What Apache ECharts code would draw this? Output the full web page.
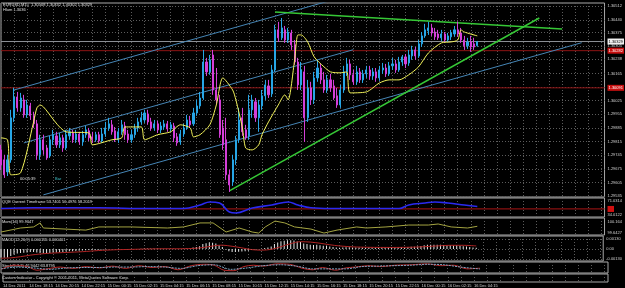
<!DOCTYPE html>
<html>
<head>
<meta charset="utf-8">
<script src="https://cdn.jsdelivr.net/npm/echarts@6.0.0/dist/echarts.min.js"></script>
<style>
  html, body { margin: 0; padding: 0; background: #000; }
  #chart { width: 625px; height: 288px; }
</style>
</head>
<body>
<div id="chart"></div>
<script>
// EURUSD M15, 14 Dec 16:15 -> 16 Dec 05:00, one value per bar
const opens = [
  1.29772, 1.29721, 1.29659, 1.29721, 1.29937, 1.30044, 1.29988, 1.30029, 1.29952, 1.29998,
  1.29947, 1.29906, 1.29747, 1.29824, 1.29782, 1.29741, 1.29824, 1.29844, 1.29798, 1.29834,
  1.29782, 1.29844, 1.29859, 1.29824, 1.29854, 1.29813, 1.29850, 1.29870, 1.29839, 1.29824,
  1.29850, 1.29818, 1.29854, 1.29885, 1.29901, 1.29870, 1.29824, 1.29865, 1.29895, 1.29854,
  1.29824, 1.29850, 1.29885, 1.29916, 1.29926, 1.29957, 1.29916, 1.29885, 1.29906, 1.29875,
  1.29890, 1.29906, 1.29880, 1.29895, 1.29839, 1.29813, 1.29854, 1.29885, 1.29921, 1.29906,
  1.29962, 1.29998, 1.30039, 1.30224, 1.30173, 1.30260, 1.30080, 1.30029, 1.29885, 1.29824,
  1.29644, 1.29607, 1.29721, 1.29824, 1.29937, 1.29875, 1.29844, 1.29978, 1.30019, 1.29937,
  1.29998, 1.30050, 1.30101, 1.30060, 1.30183, 1.30389, 1.30348, 1.30389, 1.30337, 1.30373,
  1.30312, 1.30224, 1.30106, 1.30173, 1.29937, 1.30091, 1.30029, 1.30142, 1.30193, 1.30132,
  1.30080, 1.30132, 1.30101, 1.30050, 1.30003, 1.30080, 1.30173, 1.30214, 1.30158, 1.30122,
  1.30173, 1.30132, 1.30163, 1.30183, 1.30152, 1.30173, 1.30142, 1.30183, 1.30193, 1.30163,
  1.30204, 1.30214, 1.30183, 1.30224, 1.30250, 1.30219, 1.30255, 1.30286, 1.30255, 1.30317,
  1.30358, 1.30384, 1.30399, 1.30378, 1.30368, 1.30348, 1.30368, 1.30337, 1.30353, 1.30368,
  1.30389, 1.30373, 1.30337, 1.30307, 1.30327, 1.30317, 1.30308
];
const closes = [
  1.29695, 1.29644, 1.29721, 1.29937, 1.30044, 1.29988, 1.30039, 1.29952, 1.30003, 1.29947,
  1.29906, 1.29747, 1.29824, 1.29772, 1.29731, 1.29824, 1.29850, 1.29798, 1.29834, 1.29782,
  1.29850, 1.29865, 1.29824, 1.29854, 1.29813, 1.29850, 1.29875, 1.29834, 1.29824, 1.29850,
  1.29818, 1.29854, 1.29885, 1.29906, 1.29865, 1.29824, 1.29865, 1.29901, 1.29850, 1.29824,
  1.29850, 1.29885, 1.29916, 1.29937, 1.29962, 1.29916, 1.29885, 1.29906, 1.29875, 1.29895,
  1.29906, 1.29880, 1.29901, 1.29834, 1.29808, 1.29854, 1.29885, 1.29926, 1.29901, 1.29962,
  1.29998, 1.30039, 1.30224, 1.30173, 1.30235, 1.30080, 1.30029, 1.29850, 1.29798, 1.29644,
  1.29592, 1.29721, 1.29824, 1.29926, 1.29865, 1.29834, 1.29978, 1.30029, 1.29937, 1.30003,
  1.30050, 1.30106, 1.30055, 1.30183, 1.30389, 1.30348, 1.30399, 1.30337, 1.30378, 1.30312,
  1.30224, 1.30106, 1.30183, 1.29937, 1.30091, 1.30029, 1.30142, 1.30193, 1.30132, 1.30080,
  1.30132, 1.30091, 1.30039, 1.30003, 1.30080, 1.30173, 1.30214, 1.30158, 1.30122, 1.30173,
  1.30132, 1.30163, 1.30183, 1.30152, 1.30173, 1.30142, 1.30183, 1.30193, 1.30163, 1.30204,
  1.30214, 1.30183, 1.30224, 1.30250, 1.30214, 1.30260, 1.30286, 1.30255, 1.30317, 1.30358,
  1.30389, 1.30399, 1.30373, 1.30353, 1.30348, 1.30368, 1.30337, 1.30358, 1.30373, 1.30389,
  1.30368, 1.30337, 1.30307, 1.30327, 1.30301, 1.30301, 1.30329
];
const lows = [
  1.29669, 1.29628, 1.29638, 1.29706, 1.29916, 1.29968, 1.29968, 1.29937, 1.29937, 1.29926,
  1.29885, 1.29721, 1.29721, 1.29747, 1.29721, 1.29731, 1.29798, 1.29782, 1.29782, 1.29762,
  1.29772, 1.29824, 1.29808, 1.29808, 1.29798, 1.29793, 1.29834, 1.29818, 1.29808, 1.29813,
  1.29808, 1.29808, 1.29839, 1.29870, 1.29850, 1.29813, 1.29808, 1.29850, 1.29824, 1.29808,
  1.29808, 1.29834, 1.29865, 1.29901, 1.29911, 1.29901, 1.29870, 1.29870, 1.29859, 1.29859,
  1.29875, 1.29865, 1.29865, 1.29813, 1.29793, 1.29798, 1.29839, 1.29875, 1.29885, 1.29895,
  1.29947, 1.29983, 1.30029, 1.30152, 1.30158, 1.30055, 1.30008, 1.29834, 1.29772, 1.29618,
  1.29556, 1.29587, 1.29695, 1.29808, 1.29844, 1.29824, 1.29824, 1.29937, 1.29916, 1.29865,
  1.29978, 1.30029, 1.30039, 1.30044, 1.30173, 1.30327, 1.30337, 1.30322, 1.30322, 1.30286,
  1.30209, 1.30080, 1.30080, 1.29813, 1.29916, 1.30003, 1.30008, 1.30122, 1.30111, 1.30065,
  1.30065, 1.30070, 1.30029, 1.29988, 1.29988, 1.30065, 1.30152, 1.30132, 1.30106, 1.30106,
  1.30116, 1.30116, 1.30142, 1.30132, 1.30132, 1.30122, 1.30127, 1.30163, 1.30147, 1.30152,
  1.30183, 1.30168, 1.30173, 1.30204, 1.30193, 1.30204, 1.30235, 1.30235, 1.30245, 1.30301,
  1.30348, 1.30363, 1.30358, 1.30337, 1.30337, 1.30332, 1.30327, 1.30327, 1.30337, 1.30353,
  1.30353, 1.30322, 1.30286, 1.30291, 1.30276, 1.30286, 1.30302
];
const highs = [
  1.29798, 1.29747, 1.29747, 1.29978, 1.30091, 1.30070, 1.30065, 1.30055, 1.30029, 1.30014,
  1.29968, 1.29926, 1.29850, 1.29850, 1.29798, 1.29844, 1.29875, 1.29865, 1.29859, 1.29850,
  1.29875, 1.29885, 1.29875, 1.29875, 1.29865, 1.29870, 1.29895, 1.29885, 1.29865, 1.29865,
  1.29865, 1.29885, 1.29916, 1.29937, 1.29926, 1.29890, 1.29885, 1.29926, 1.29916, 1.29875,
  1.29875, 1.29906, 1.29937, 1.29968, 1.29978, 1.29978, 1.29937, 1.29926, 1.29921, 1.29916,
  1.29926, 1.29921, 1.29916, 1.29911, 1.29859, 1.29875, 1.29906, 1.29952, 1.29947, 1.29988,
  1.30029, 1.30070, 1.30286, 1.30245, 1.30260, 1.30286, 1.30193, 1.30055, 1.29926, 1.29937,
  1.29669, 1.29747, 1.29844, 1.29988, 1.29988, 1.29901, 1.30055, 1.30055, 1.30039, 1.30029,
  1.30080, 1.30132, 1.30132, 1.30209, 1.30415, 1.30430, 1.30450, 1.30409, 1.30399, 1.30389,
  1.30337, 1.30245, 1.30224, 1.30204, 1.30132, 1.30122, 1.30173, 1.30235, 1.30214, 1.30173,
  1.30158, 1.30163, 1.30132, 1.30091, 1.30106, 1.30204, 1.30245, 1.30235, 1.30183, 1.30204,
  1.30193, 1.30183, 1.30204, 1.30204, 1.30193, 1.30193, 1.30204, 1.30219, 1.30214, 1.30224,
  1.30245, 1.30235, 1.30250, 1.30260, 1.30265, 1.30286, 1.30307, 1.30301, 1.30337, 1.30378,
  1.30420, 1.30430, 1.30420, 1.30399, 1.30389, 1.30389, 1.30378, 1.30373, 1.30389, 1.30409,
  1.30430, 1.30399, 1.30358, 1.30348, 1.30358, 1.30348, 1.30332
];

// yellow moving average, [bar, price]
const maLine = [
  [0, 1.29834], [2, 1.29824], [3, 1.29644], [6, 1.29654], [10, 1.29916], [11, 1.29988], [12, 1.30003],
  [13, 1.29993], [20, 1.29865], [27, 1.29859], [28, 1.29798], [34, 1.29824], [37, 1.29834], [38, 1.29890],
  [43, 1.29890], [44, 1.29824], [48, 1.29850], [52, 1.29865], [55, 1.29901], [58, 1.29885], [59, 1.29839],
  [61, 1.29850], [64, 1.29901], [66, 1.30003], [68, 1.30142], [71, 1.30080], [72, 1.30029], [74, 1.29885],
  [75, 1.29782], [77, 1.29772], [79, 1.29798], [80, 1.29850], [82, 1.29916], [85, 1.30003], [87, 1.30055],
  [88, 1.30029], [90, 1.30235], [91, 1.30363], [92, 1.30363], [94, 1.30327], [96, 1.30250], [99, 1.30199],
  [101, 1.30173], [104, 1.30168], [106, 1.30173], [107, 1.30065], [112, 1.30070], [116, 1.30116],
  [119, 1.30132], [122, 1.30132], [125, 1.30158], [128, 1.30199], [131, 1.30270], [135, 1.30322],
  [138, 1.30327], [140, 1.30337], [141, 1.30389], [142, 1.30378], [146, 1.30358]
];

// drawn objects, [bar, price] end points
const channelTop = [[4, 1.30080], [100, 1.30535]];
const channelMid = [[7, 1.29808], [108, 1.30287]];
const channelLow = [[13, 1.29541], [178, 1.30323]];
const greenUpper = [[84, 1.30481], [172, 1.30394]];
const greenLower = [[70, 1.29561], [165, 1.30450]];
const redLevels = [1.30282, 1.30091];
const bidPrice = 1.30329;

const priceTicks = [1.29535, 1.29605, 1.29675, 1.29745, 1.29815, 1.29885, 1.29955, 1.30025,
  1.30095, 1.30165, 1.30238, 1.30305, 1.30375, 1.30440, 1.30512];
const timeLabels = ['14 Dec 2011', '14 Dec 18:15', '14 Dec 20:15', '14 Dec 22:15', '15 Dec 00:15',
  '15 Dec 02:15', '15 Dec 04:15', '15 Dec 06:15', '15 Dec 08:15', '15 Dec 10:15', '15 Dec 12:15',
  '15 Dec 14:15', '15 Dec 16:15', '15 Dec 18:15', '15 Dec 20:15', '15 Dec 22:15', '16 Dec 00:15',
  '16 Dec 02:15', '16 Dec 04:15'];

// QQE
const qqeLine = [
  [0, 51], [10, 53], [30, 53], [45, 51], [56, 51], [61, 60.5], [64, 68.4], [67, 65.7], [70, 41.9],
  [72, 39.3], [77, 52.5], [83, 60.5], [88, 68.4], [91, 60.5], [95, 53], [101, 51], [122, 51],
  [125, 60.5], [130, 65.7], [133, 68.4], [137, 65.7], [142, 60.5], [146, 56.5]
];
const qqeLevel = 50;
const qqeTicks = [34.0122, 71.0314];

// Momentum(14)
const momLine = [
  [0, 99.69], [6, 99.88], [10, 99.93], [12, 100.12], [13, 99.88], [26, 99.78], [30, 99.93], [40, 99.93],
  [51, 99.88], [56, 99.93], [61, 100.12], [65, 100.12], [69, 99.69], [73, 99.88], [77, 99.69], [79, 99.64],
  [81, 99.93], [84, 100.21], [87, 100.12], [90, 99.93], [95, 99.83], [99, 99.64], [103, 99.78], [109, 99.93],
  [112, 99.88], [118, 99.93], [125, 100.02], [131, 100.02], [134, 100.07], [138, 99.93], [143, 99.88], [146, 99.96]
];
const momTicks = [99.6427, 100.164];

// MACD(12,26,9)
const macdHist = [
  -0.00110, -0.00115, -0.00110, -0.00090, -0.00070, -0.00060, -0.00052, -0.00048, -0.00044, -0.00040,
  -0.00038, -0.00045, -0.00052, -0.00054, -0.00056, -0.00052, -0.00048, -0.00045, -0.00042, -0.00038,
  -0.00034, -0.00030, -0.00028, -0.00025, -0.00022, -0.00019, -0.00016, -0.00014, -0.00012, -0.00010,
  -0.00009, -0.00007, -0.00005, -0.00003, -0.00002, -0.00003, -0.00003, -0.00002, -0.00001, -0.00002,
  -0.00002, -0.00001, 0.00001, 0.00003, 0.00005, 0.00006, 0.00005, 0.00005, 0.00004, 0.00004,
  0.00004, 0.00004, 0.00004, 0.00002, -0.00001, 0.00000, 0.00003, 0.00008, 0.00012, 0.00018,
  0.00026, 0.00036, 0.00065, 0.00076, 0.00086, 0.00080, 0.00070, 0.00050, 0.00025, -0.00005,
  -0.00030, -0.00038, -0.00038, -0.00035, -0.00032, -0.00030, -0.00022, -0.00014, -0.00010, -0.00004,
  0.00003, 0.00012, 0.00018, 0.00034, 0.00065, 0.00085, 0.00100, 0.00108, 0.00114, 0.00115,
  0.00110, 0.00098, 0.00090, 0.00070, 0.00064, 0.00055, 0.00052, 0.00054, 0.00050, 0.00043,
  0.00038, 0.00033, 0.00026, 0.00018, 0.00016, 0.00020, 0.00023, 0.00022, 0.00020, 0.00020,
  0.00019, 0.00019, 0.00019, 0.00018, 0.00018, 0.00017, 0.00018, 0.00019, 0.00018, 0.00019,
  0.00020, 0.00020, 0.00022, 0.00024, 0.00024, 0.00026, 0.00029, 0.00030, 0.00034, 0.00040,
  0.00048, 0.00054, 0.00056, 0.00056, 0.00055, 0.00054, 0.00052, 0.00050, 0.00048, 0.00047,
  0.00046, 0.00042, 0.00036, 0.00032, 0.00026, 0.00020, 0.000155
];
const macdSignal = [
  [0, -0.0012], [3, -0.00115], [6, -0.0010], [9, -0.0008], [12, -0.00065], [15, -0.00055], [20, -0.00045],
  [25, -0.00035], [30, -0.0002], [35, -0.0001], [40, -0.00005], [45, 0], [50, 0.00003], [55, 0.00003],
  [60, 0.0001], [63, 0.00025], [66, 0.00045], [68, 0.0005], [71, 0.00035], [74, 0.00015], [77, -0.00008],
  [80, -0.00015], [83, -0.00005], [86, 0.0003], [89, 0.0007], [92, 0.00095], [95, 0.0009], [98, 0.00075],
  [101, 0.00055], [104, 0.0004], [108, 0.00028], [113, 0.00022], [120, 0.0002], [126, 0.00023],
  [130, 0.0003], [134, 0.0004], [138, 0.00048], [142, 0.00048], [146, 0.000401]
];
const macdTicks = [-0.0013, 0, 0.0013];

// Stochastic(5,3,3)
const stochMain = [
  [0, 30], [4, 75], [8, 60], [11, 20], [14, 35], [18, 55], [22, 40], [26, 60], [30, 45], [34, 65], [38, 40],
  [42, 70], [46, 50], [50, 60], [54, 25], [58, 70], [62, 85], [65, 75], [68, 20], [71, 15], [74, 60], [77, 75],
  [80, 65], [84, 90], [88, 85], [92, 40], [95, 25], [98, 50], [102, 20], [105, 45], [108, 55], [112, 70],
  [116, 60], [120, 75], [125, 80], [130, 90], [134, 70], [138, 75], [142, 35], [146, 42.9]
];
const stochSignal = [
  [0, 35], [5, 55], [10, 45], [15, 30], [20, 45], [25, 50], [30, 50], [35, 55], [40, 55], [45, 60], [50, 55],
  [55, 40], [60, 70], [65, 80], [70, 30], [75, 45], [80, 70], [85, 80], [90, 65], [95, 35], [100, 35],
  [105, 35], [110, 60], [115, 65], [120, 70], [125, 75], [130, 85], [135, 80], [140, 55], [146, 33.9]
];

const slots = 186;
const cats = [];
for (let i = 0; i < slots; i++) cats.push(String(i));

const candles = opens.map((o, i) => [o, closes[i], lows[i], highs[i]]);

const chart = echarts.init(document.getElementById('chart'));

const FONT = 'Liberation Sans';
const gridLine = { color: '#5c5c5c', type: [1, 2], width: 1 };
const panels = [
  { top: 3, height: 194 },
  { top: 198, height: 19 },
  { top: 218, height: 17 },
  { top: 236, height: 25 },
  { top: 262, height: 11 },
  { top: 274, height: 8 }
];

const xAxes = panels.map((p, k) => ({
  type: 'category',
  gridIndex: k,
  data: cats,
  boundaryGap: false,
  axisLine: { show: false },
  axisTick: { show: false },
  axisLabel: k === panels.length - 1 ? {
    show: true,
    interval: 7,
    align: 'left',
    margin: 2,
    fontSize: 4,
    fontFamily: FONT,
    color: '#d0d0d0',
    formatter: (v, idx) => timeLabels[idx / 8] || ''
  } : { show: false },
  splitLine: { show: true, interval: 3, lineStyle: gridLine }
}));

function sideAxis(k, min, max, ticks, fmt, split) {
  return {
    type: 'value',
    gridIndex: k,
    position: 'right',
    min: min,
    max: max,
    scale: true,
    axisLine: { show: false },
    axisTick: { show: false, customValues: ticks },
    axisLabel: {
      customValues: ticks,
      formatter: fmt,
      fontSize: 4,
      fontFamily: FONT,
      color: '#d0d0d0',
      margin: 3
    },
    splitLine: { show: split, lineStyle: gridLine }
  };
}

const yAxes = [
  sideAxis(0, 1.29530, 1.30527, priceTicks, v => v.toFixed(5), true),
  sideAxis(1, 28.72, 78.96, qqeTicks, v => v.toFixed(4), false),
  sideAxis(2, 99.548, 100.354, momTicks, v => (v > 100 ? v.toFixed(3) : v.toFixed(4)), false),
  sideAxis(3, -0.00156, 0.00169, macdTicks, v => (v === 0 ? '0.00' : v.toFixed(5)), true),
  sideAxis(4, -10, 110, [], v => '', false),
  sideAxis(5, 0, 1, [], v => '', false)
];

function trend(data, color, width) {
  return {
    type: 'line', xAxisIndex: 0, yAxisIndex: 0, data: data, symbol: 'none',
    clip: true, silent: true, lineStyle: { color: color, width: width }, z: 3
  };
}

// horizontal level across the whole panel, value tag on the price scale
function level(axis, value, color, width, tagBg, tagFg, text) {
  return {
    type: 'line', xAxisIndex: axis, yAxisIndex: axis, symbol: 'none', silent: true, z: 2,
    data: [[0, value], [slots - 1, value]],
    lineStyle: { color: color, width: width },
    endLabel: {
      show: true, distance: 3, fontSize: 4, fontFamily: FONT,
      color: tagFg, backgroundColor: tagBg, padding: [1, 1],
      formatter: () => text
    }
  };
}

const txt = (x, y, s, color) => ({
  type: 'text', left: x, top: y, silent: true,
  style: { text: s, fill: color, font: '4px ' + FONT }
});

const option = {
  backgroundColor: '#000',
  animation: false,
  grid: panels.map(p => ({
    left: 1, right: 17, top: p.top, height: p.height,
    show: true, borderColor: '#a8a8a8', borderWidth: 1, backgroundColor: 'transparent'
  })),
  xAxis: xAxes,
  yAxis: yAxes,
  graphic: [
    txt(3, 3, 'EURUSD,M15  1.30308 1.30332 1.30302 1.30329', '#e0e0e0'),
    txt(3, 8, 'Hlum 1.3036', '#e0e0e0'),
    txt(20, 177, '00:05:39', '#e0e0e0'),
    txt(55, 177, 'Bar', '#3fc1c9'),
    txt(2, 199.5, 'QQE Current Timeframe 53.7401 56.4976 58.2019', '#e0e0e0'),
    txt(2, 219.5, 'Mom(14) 99.9647', '#e0e0e0'),
    txt(2, 237.5, 'MACD(12,26,9) 0.000155 0.000401', '#e0e0e0'),
    txt(2, 263.5, 'Stoch(5,3,3) 42.9442 33.8795', '#e0e0e0'),
    txt(2, 275.5, 'Custom Indicator - Copyright \u00a9 2001-2011, MetaQuotes Software Corp.', '#e0e0e0')
  ],
  series: [
    level(0, redLevels[0], '#8e1414', 1, '#c81010', '#fff', redLevels[0].toFixed(5)),
    level(0, redLevels[1], '#8e1414', 1, '#c81010', '#fff', redLevels[1].toFixed(5)),
    level(0, bidPrice, '#8c9096', 1, '#f0f0f0', '#000', bidPrice.toFixed(5)),
    {
      type: 'candlestick',
      xAxisIndex: 0, yAxisIndex: 0,
      data: candles,
      barWidth: 1.6,
      z: 4,
      itemStyle: {
        color: '#27a6e6', color0: '#d43fd8',
        borderColor: '#27a6e6', borderColor0: '#d43fd8', borderWidth: 1
      }
    },
    {
      type: 'line', xAxisIndex: 0, yAxisIndex: 0, data: maLine, symbol: 'none', smooth: 0.25,
      silent: true, z: 5, lineStyle: { color: '#f2f25a', width: 1 }
    },
    trend(channelTop, '#4585b5', 1),
    trend(channelMid, '#4585b5', 1),
    trend(channelLow, '#4585b5', 1),
    trend(greenUpper, '#36c836', 1.5),
    trend(greenLower, '#36c836', 1.5),
    level(1, qqeLevel, '#8a1010', 1.2, '#d01010', '#d01010', '50'),
    {
      type: 'line', xAxisIndex: 1, yAxisIndex: 1, data: qqeLine, symbol: 'none', smooth: 0.4,
      silent: true, z: 3, lineStyle: { color: '#2a2af0', width: 1.6 }
    },
    {
      type: 'line', xAxisIndex: 2, yAxisIndex: 2, data: momLine, symbol: 'none',
      silent: true, lineStyle: { color: '#a3a340', width: 1 }
    },
    {
      type: 'bar', xAxisIndex: 3, yAxisIndex: 3, data: macdHist, barWidth: 1,
      silent: true, itemStyle: { color: '#e8e8e8' }
    },
    {
      type: 'line', xAxisIndex: 3, yAxisIndex: 3, data: macdSignal, symbol: 'none', smooth: 0.3,
      silent: true, lineStyle: { color: '#b02424', width: 1 }
    },
    {
      type: 'line', xAxisIndex: 4, yAxisIndex: 4, data: stochMain, symbol: 'none', smooth: 0.3,
      silent: true, lineStyle: { color: '#b82a2a', width: 1 }
    },
    {
      type: 'line', xAxisIndex: 4, yAxisIndex: 4, data: stochSignal, symbol: 'none', smooth: 0.3,
      silent: true, lineStyle: { color: '#7fa6c4', width: 1, type: [2, 1] }
    }
  ]
};

chart.setOption(option);
</script>
</body>
</html>
